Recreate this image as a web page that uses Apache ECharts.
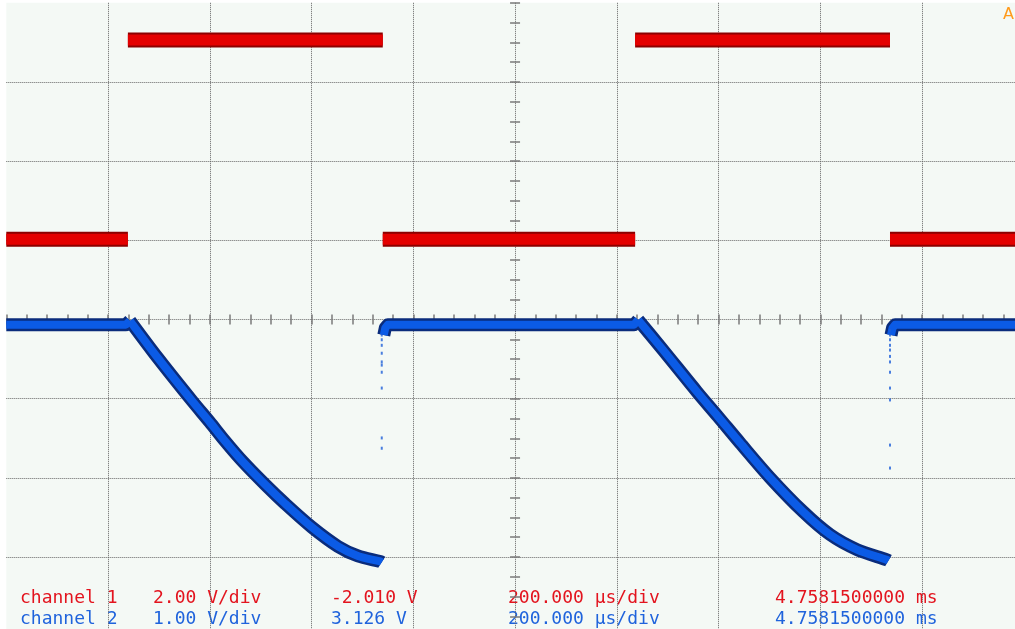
<!DOCTYPE html>
<html>
<head>
<meta charset="utf-8">
<script src="https://cdn.jsdelivr.net/npm/echarts@6/dist/echarts.min.js"></script>
<style>
html,body{margin:0;padding:0;background:#ffffff;}
#c{width:1015px;height:629px;}
</style>
</head>
<body>
<div id="c"></div>
<script>
// ---- time base: µs relative to screen centre, 200 µs/div ----
const timeMin = -1000, timeMax = 1000, timeDiv = 200;
// ---- screen divisions (vertical) ----
const divMin = -4, divMax = 4;

// ---- channel 1 (2.00 V/div, offset -2.010 V) : square wave ----
const ch1Scale = 2.0, ch1Offset = -2.010;
const ch1Edges = [-761, -260, 236, 737];          // µs, transition instants
const ch1Levels = [0.02, 5.05, 0.02, 5.05, 0.02];   // V, level of each segment

// ---- channel 2 (1.00 V/div, offset 3.126 V) ----
const ch2Scale = 1.0, ch2Offset = 3.126;
const ch2FlatV = 3.06;
const ch2Ramp1T = [-757, -702, -635, -600, -570, -535, -491, -452, -399, -348, -309, -265, -262];
const ch2Ramp1V = [3.11, 2.64, 2.10, 1.83, 1.59, 1.33, 1.04, 0.80, 0.50, 0.26, 0.14, 0.07, 0.06];
const ch2Ramp2T = [242, 291, 358, 399, 442, 501, 566, 619, 672, 731, 734];
const ch2Ramp2V = [3.12, 2.74, 2.21, 1.90, 1.57, 1.13, 0.70, 0.41, 0.22, 0.09, 0.08];
const ch2Recover1T = [-258, -255, -250];
const ch2Recover2T = [739, 742, 747];
const ch2RecoverV = [2.93, 3.02, 3.06];
const ch2Jump1T = -262;
const ch2Jump1V = [2.93, 2.87, 2.80, 2.70, 2.59, 2.55, 2.46, 2.26, 1.63, 1.50];
const ch2Jump2T = 737;
const ch2Jump2V = [2.99, 2.93, 2.87, 2.80, 2.74, 2.66, 2.59, 2.46, 2.26, 2.11, 1.54, 1.25];

// ---- readout texts ----
const ch1Readout = ['channel 1', '2.00 V/div', '-2.010 V', '200.000 µs/div', '4.7581500000 ms'];
const ch2Readout = ['channel 2', '1.00 V/div', '3.126 V', '200.000 µs/div', '4.7581500000 ms'];
const triggerMark = 'A';

// ---------- build series data ----------
const ch1Data = [];
const bounds = [timeMin].concat(ch1Edges, [timeMax]);
for (let i = 0; i < ch1Levels.length; i++) {
  ch1Data.push([bounds[i], ch1Levels[i]]);
  ch1Data.push([bounds[i + 1], ch1Levels[i]]);
  if (i < ch1Levels.length - 1) ch1Data.push([bounds[i + 1], null]);
}

// flat parts (not smoothed)
const ch2Flat = [];
ch2Flat.push([timeMin, ch2FlatV], [ch2Ramp1T[0] - 8, ch2FlatV], [ch2Ramp1T[0], ch2Ramp1V[0]]);
ch2Flat.push([ch2Ramp1T[0], null]);
ch2Recover1T.forEach((t, i) => ch2Flat.push([t, ch2RecoverV[i]]));
ch2Flat.push([ch2Ramp2T[0] - 8, ch2FlatV], [ch2Ramp2T[0], ch2Ramp2V[0]]);
ch2Flat.push([ch2Ramp2T[0], null]);
ch2Recover2T.forEach((t, i) => ch2Flat.push([t, ch2RecoverV[i]]));
ch2Flat.push([timeMax, ch2FlatV]);

// ramps (smoothed)
const ch2Ramps = [];
ch2Ramp1T.forEach((t, i) => ch2Ramps.push([t, ch2Ramp1V[i]]));
ch2Ramps.push([ch2Ramp1T[ch2Ramp1T.length - 1], null]);
ch2Ramp2T.forEach((t, i) => ch2Ramps.push([t, ch2Ramp2V[i]]));

const ch2Dots = ch2Jump1V.map(v => [ch2Jump1T, v]).concat(ch2Jump2V.map(v => [ch2Jump2T, v]));

// ---------- chart ----------
const chart = echarts.init(document.getElementById('c'), null, {renderer: 'canvas'});

const dotted = {color: '#666666', width: 1, type: [1, 1]};
const tickStyle = {color: '#7a7a7a', width: 1.5};

function divXAxis(pos) {
  return {
    type: 'value', position: pos, min: timeMin, max: timeMax, interval: timeDiv,
    axisLine: {show: false, onZero: true, onZeroAxisIndex: 0},
    axisTick: {show: true, length: 5, lineStyle: tickStyle},
    minorTick: {show: true, splitNumber: 5, length: 5, lineStyle: tickStyle},
    axisLabel: {show: false},
    splitLine: {show: pos === 'bottom', showMinLine: false, showMaxLine: false, lineStyle: dotted},
    minorSplitLine: {show: false}
  };
}
function divYAxis(pos) {
  return {
    type: 'value', position: pos, min: divMin, max: divMax, interval: 1,
    axisLine: {show: false, onZero: true, onZeroAxisIndex: 0},
    axisTick: {show: true, length: 5, lineStyle: tickStyle},
    minorTick: {show: true, splitNumber: 4, length: 5, lineStyle: tickStyle},
    axisLabel: {show: false},
    splitLine: {show: pos === 'left', showMinLine: false, showMaxLine: false, lineStyle: dotted},
    minorSplitLine: {show: false}
  };
}
function chAxis(scale, offset) {
  return {
    type: 'value', show: false,
    min: offset + divMin * scale, max: offset + divMax * scale,
    axisLine: {onZero: false}, splitLine: {show: false}
  };
}

const font = '18px "DejaVu Sans Mono", "Liberation Mono", monospace';
const colX = [20, 153, 331, 508, 775];
const redText = '#e3141e', blueText = '#1f63dc';
const graphics = [];
ch1Readout.forEach((s, i) => graphics.push({
  type: 'text', x: colX[i], y: 598.6, silent: true,
  style: {text: s, font: font, fill: redText, textAlign: 'left', textVerticalAlign: 'middle', align: 'left', verticalAlign: 'middle'}
}));
ch2Readout.forEach((s, i) => graphics.push({
  type: 'text', x: colX[i], y: 619.8, silent: true,
  style: {text: s, font: font, fill: blueText, textAlign: 'left', textVerticalAlign: 'middle', align: 'left', verticalAlign: 'middle'}
}));
graphics.push({
  type: 'text', x: 1003, y: 15, silent: true, z: 100,
  style: {text: triggerMark, font: '16px "DejaVu Sans", sans-serif', fill: '#ff9a1a', textAlign: 'left', textVerticalAlign: 'middle', align: 'left', verticalAlign: 'middle'}
});

const lineBase = {type: 'line', xAxisIndex: 0, showSymbol: false, symbol: 'none', connectNulls: false, silent: true, animation: false};
const blueEdge = {color: '#0a2c7c', width: 13, cap: 'butt', join: 'round'};
const blueCore = {color: '#0b5be6', width: 8, cap: 'butt', join: 'round'};

chart.setOption({
  animation: false,
  backgroundColor: '#ffffff',
  grid: {
    left: 6.3, top: 2.8, width: 1017.5, height: 633.4,
    show: true, backgroundColor: '#f4f9f5', borderWidth: 0,
    containLabel: false, outerBoundsMode: 'none'
  },
  xAxis: [divXAxis('bottom'), divXAxis('top')],
  yAxis: [divYAxis('left'), divYAxis('right'), chAxis(ch1Scale, ch1Offset), chAxis(ch2Scale, ch2Offset)],
  series: [
    Object.assign({}, lineBase, {name: 'ch1 edge', yAxisIndex: 2, data: ch1Data, z: 3,
      lineStyle: {color: '#8c0000', width: 15, cap: 'butt', join: 'miter'}}),
    Object.assign({}, lineBase, {name: 'ch1', yAxisIndex: 2, data: ch1Data, z: 4,
      lineStyle: {color: '#e40000', width: 11, cap: 'butt', join: 'miter'}}),
    Object.assign({}, lineBase, {name: 'ch2 flat edge', yAxisIndex: 3, data: ch2Flat, z: 5, lineStyle: blueEdge}),
    Object.assign({}, lineBase, {name: 'ch2 ramp edge', yAxisIndex: 3, data: ch2Ramps, z: 5, lineStyle: blueEdge,
      smooth: 0.3}),
    Object.assign({}, lineBase, {name: 'ch2 flat', yAxisIndex: 3, data: ch2Flat, z: 6, lineStyle: blueCore}),
    Object.assign({}, lineBase, {name: 'ch2 ramp', yAxisIndex: 3, data: ch2Ramps, z: 6, lineStyle: blueCore,
      smooth: 0.3}),
    {type: 'scatter', name: 'ch2 jump', xAxisIndex: 0, yAxisIndex: 3, data: ch2Dots, z: 7,
      symbol: 'rect', symbolSize: [2, 3], silent: true, animation: false,
      itemStyle: {color: '#1e5fd8'}}
  ],
  graphic: graphics
});
</script>
</body>
</html>
